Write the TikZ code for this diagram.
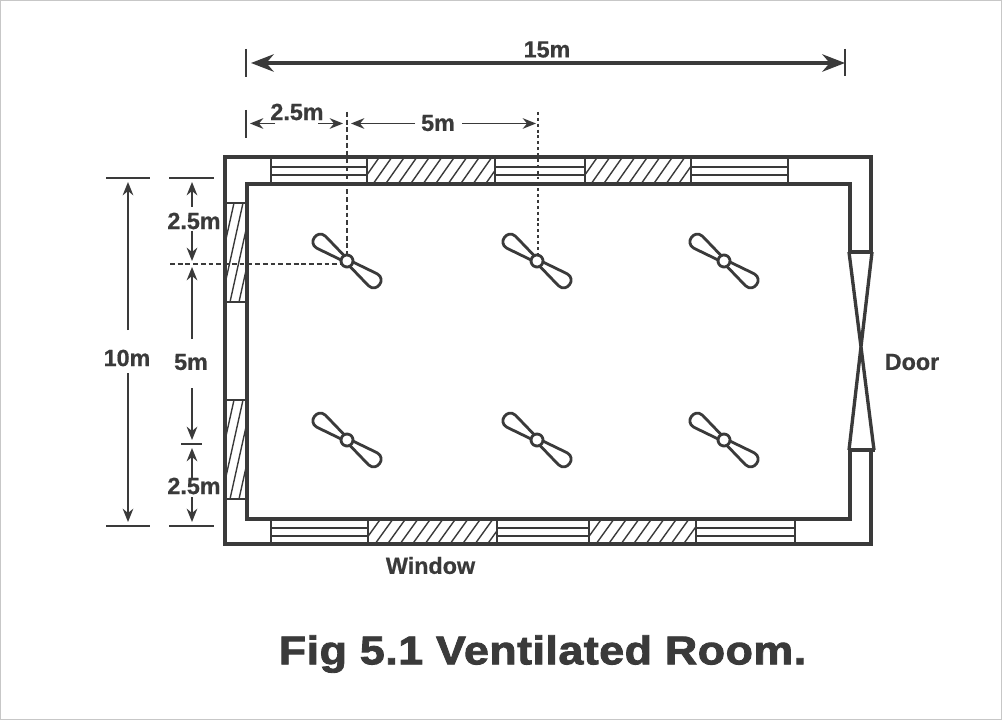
\documentclass[tikz,border=0pt]{standalone}
\usepackage{fontspec}
\setmainfont{Liberation Sans}
\newfontfamily\titlefont[FakeStretch=1.12,FakeBold=2.2,LetterSpace=1.2]{Liberation Sans Bold}
\newfontfamily\labelfont[FakeBold=0.7]{Liberation Sans Bold}
\usetikzlibrary{arrows.meta}
\definecolor{ink}{HTML}{3A3A3A}
\tikzset{
  wall/.style={draw=ink,line width=2.5pt,line join=miter},
  pane/.style={draw=ink,line width=1.5pt},
  hatchline/.style={draw=ink,line width=1.05pt},
  tickline/.style={draw=ink,line width=2.2pt},
  dimline/.style={draw=ink,line width=1.3pt,-{Stealth[length=10pt,width=8pt]}},
  bigdim/.style={draw=ink,line width=2.7pt,{Stealth[length=17pt,width=13pt]}-{Stealth[length=17pt,width=13pt]}},
  label/.style={text=ink,font=\labelfont\fontsize{17.5pt}{20pt}\selectfont,inner sep=0pt},
  guide/.style={draw=ink,line width=1.5pt,dash pattern=on 3.6pt off 2.2pt},
  dotguide/.style={draw=ink,line width=2.1pt,dash pattern=on 2.2pt off 2.2pt},
  fanline/.style={draw=ink,line width=2.1pt,fill=white,line join=round},
}
% #1..#4 box, #5 spacing, #6 run of a hatch line across the box height
\newcommand{\hatchbox}[6]{%
  \begin{scope}
    \clip (#1,#2) rectangle (#3,#4);
    \pgfmathsetmacro{\hh}{abs(#4-#2)}
    \pgfmathsetmacro{\xs}{#1-#6}
    \pgfmathsetmacro{\xn}{#1-#6+#5}
    \foreach \xx in {\xs,\xn,...,#3}{
      \draw[hatchline] (\xx,#4) -- ++(#6,-\hh);
    }
  \end{scope}
  \draw[pane] (#1,#2) rectangle (#3,#4);
}
\newcommand{\windowbox}[6]{%
  \draw[pane] (#1,#2) -- (#1,#4) (#3,#2) -- (#3,#4);
  \draw[pane] (#1,#5) -- (#3,#5) (#1,#6) -- (#3,#6);
}
\newcommand{\fanblade}{%
  \draw[fanline] (4,-2.4) -- (32,-7.4) .. controls (43,-8.6) and (43,8.6) .. (32,7.4) -- (4,2.4);
}
\newcommand{\fanunit}[2]{%
  \begin{scope}[shift={(#1,#2)},rotate=-36]
    \fanblade
    \begin{scope}[xscale=-1]\fanblade\end{scope}
    \draw[fanline] (0,0) circle[radius=6];
  \end{scope}
}
\begin{document}
\begin{tikzpicture}[x=0.75pt,y=-0.75pt]
\useasboundingbox (0,0) rectangle (1002,720);
\draw[draw=black!22,fill=white,line width=1pt] (0.5,0.5) rectangle (1001.5,719.5);

% hatched and glazed parts of the walls
\hatchbox{367}{157}{495}{184}{12.5}{19}
\hatchbox{585}{157}{691}{184}{12.5}{19}
\hatchbox{368}{519}{497}{544}{12.5}{18}
\hatchbox{589}{519}{696}{544}{12.5}{18}
\hatchbox{225}{203}{247}{302}{9}{22}
\hatchbox{225}{400}{247}{499}{9}{22}
\windowbox{271}{157}{367}{184}{166.7}{174.7}
\windowbox{495}{157}{585}{184}{166.7}{174.7}
\windowbox{691}{157}{788}{184}{166.7}{174.7}
\windowbox{271}{519}{368}{544}{527.5}{536}
\windowbox{497}{519}{589}{544}{527.5}{536}
\windowbox{696}{519}{795}{544}{527.5}{536}

% walls
\coordinate (oa) at (871,252); \coordinate (ob) at (871,157); \coordinate (oc) at (225,157);
\coordinate (od) at (225,544); \coordinate (oe) at (871,544); \coordinate (of) at (871,450);
\coordinate (ia) at (850,252); \coordinate (ib) at (850,184); \coordinate (ic) at (247,184);
\coordinate (id) at (247,519); \coordinate (ie) at (850,519); \coordinate (if) at (850,450);
\draw[wall] (oa) -- (ob) -- (oc) -- (od) -- (oe) -- (of);
\draw[wall] (ia) -- (ib) -- (ic) -- (id) -- (ie) -- (if);

% door
\coordinate (da) at (848,252); \coordinate (db) at (873,252);
\coordinate (dc) at (848,450); \coordinate (dd) at (875,450);
\draw[wall] (da) -- (db) (dc) -- (dd);
\draw[wall] (849,252) -- (874,450) (872,252) -- (849,450);

% fans
\fanunit{347}{261}
\fanunit{537}{261}
\fanunit{724}{261}
\fanunit{347}{440}
\fanunit{537}{440}
\fanunit{724}{440}

% guide lines
\coordinate (ga) at (347,112); \coordinate (gb) at (347,255);
\coordinate (gc) at (538,112); \coordinate (gd) at (538,255);
\coordinate (ge) at (170,264); \coordinate (gf) at (341,264);
\draw[guide] (ga) -- (gb);
\draw[dotguide] (gc) -- (gd);
\draw[guide] (ge) -- (gf);

% 15 m
\coordinate (ta) at (246,49); \coordinate (tb) at (246,77);
\coordinate (tc) at (845,49); \coordinate (td) at (845,76);
\coordinate (te) at (251,63); \coordinate (tf) at (845,63);
\draw[tickline] (ta) -- (tb) (tc) -- (td);
\draw[bigdim] (te) -- (tf);
\node[label] (l15) at (547,49.5) {15m};

% 2.5 m and 5 m on top
\coordinate (ua) at (246,110); \coordinate (ub) at (246,138);
\draw[tickline] (ua) -- (ub);
\coordinate (ha) at (275,123.5); \coordinate (hb) at (250,123.5);
\coordinate (hc) at (318,123.5); \coordinate (hd) at (343,123.5);
\coordinate (he) at (415,123.5); \coordinate (hf) at (351,123.5);
\coordinate (hg) at (462,123.5); \coordinate (hh) at (536,123.5);
\draw[dimline] (ha) -- (hb);
\draw[dimline] (hc) -- (hd);
\draw[dimline] (he) -- (hf);
\draw[dimline] (hg) -- (hh);
\node[label] (l25t) at (297,112) {2.5m};
\node[label] (l5t) at (438,123) {5m};

% left dimensions
\coordinate (va) at (106,178); \coordinate (vb) at (150,178);
\coordinate (vc) at (169,178); \coordinate (vd) at (214,178);
\coordinate (ve) at (106,526); \coordinate (vf) at (150,526);
\coordinate (vg) at (169,526); \coordinate (vh) at (214,526);
\coordinate (vi) at (181,444); \coordinate (vj) at (202,444);
\draw[tickline] (va) -- (vb) (vc) -- (vd) (ve) -- (vf) (vg) -- (vh) (vi) -- (vj);

\coordinate (wa) at (128,330); \coordinate (wb) at (128,182);
\coordinate (wc) at (128,373); \coordinate (wd) at (128,522);
\draw[dimline] (wa) -- (wb);
\draw[dimline] (wc) -- (wd);
\node[label] (l10) at (127,358) {10m};

\coordinate (xa) at (192,207); \coordinate (xb) at (192,182);
\coordinate (xc) at (192,231); \coordinate (xd) at (192,261);
\coordinate (xe) at (192,339); \coordinate (xf) at (192,267);
\coordinate (xg) at (192,388); \coordinate (xh) at (192,440);
\coordinate (xi) at (192,478); \coordinate (xj) at (192,448);
\coordinate (xk) at (192,497); \coordinate (xl) at (192,522);
\draw[dimline] (xa) -- (xb);
\draw[dimline] (xc) -- (xd);
\draw[dimline] (xe) -- (xf);
\draw[dimline] (xg) -- (xh);
\draw[dimline] (xi) -- (xj);
\draw[dimline] (xk) -- (xl);
\node[label] (l25a) at (194,221) {2.5m};
\node[label] (l5l) at (191,362) {5m};
\node[label] (l25b) at (194,486) {2.5m};

\node[label] (lwin) at (430.5,565.5) {Window};
\node[label] (ldoor) at (912,362) {Door};
\node[text=ink,inner sep=0pt,font=\titlefont\fontsize{30pt}{36pt}\selectfont] (title) at (542.5,654) {Fig 5.1 Ventilated Room.};
\end{tikzpicture}
\end{document}
